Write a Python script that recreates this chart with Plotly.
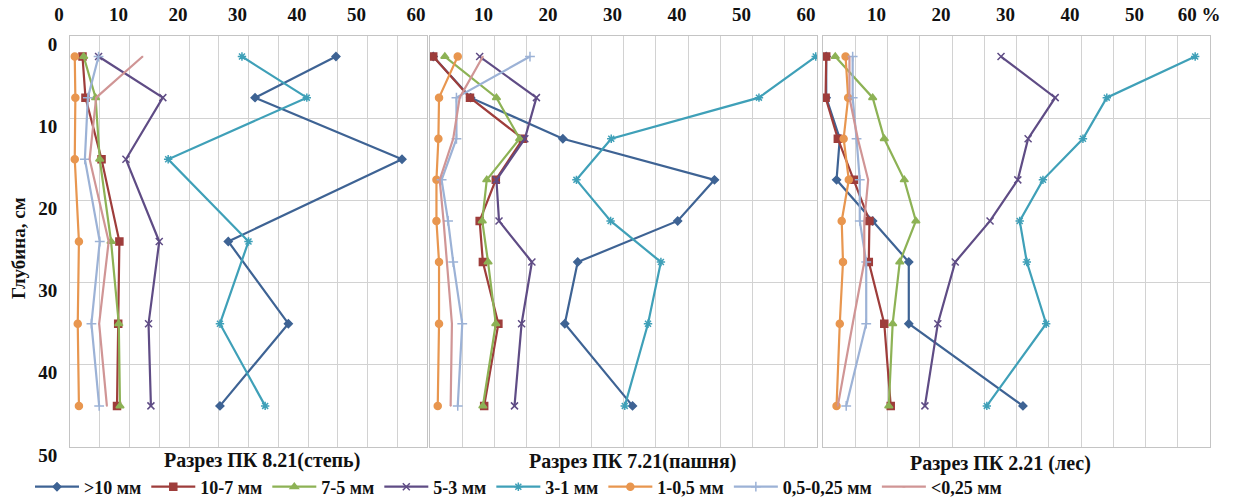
import plotly.graph_objects as go

# ---------------- data ----------------
depth_p1 = [2.5, 7.5, 15, 25, 35, 45]
depth_p23 = [2.5, 7.5, 12.5, 17.5, 22.5, 27.5, 35, 45]

series_names = [">10 мм", "10-7 мм", "7-5 мм", "5-3 мм", "3-1 мм", "1-0,5 мм", "0,5-0,25 мм", "<0,25 мм"]

# Разрез ПК 8.21 (степь)
gt10_p1 = [44.7, 31.1, 55.8, 26.6, 36.7, 25.2]
r10_7_p1 = [2.1, 2.6, 5.3, 8.3, 8.1, 7.9]
r7_5_p1 = [2.3, 4.3, 5.0, 6.9, 8.2, 8.4]
r5_3_p1 = [4.8, 15.6, 9.4, 15.0, 13.2, 13.6]
r3_1_p1 = [28.9, 39.8, 16.5, 30.0, 25.2, 32.8]
r1_05_p1 = [0.8, 0.9, 0.8, 1.5, 1.3, 1.5]
r05_025_p1 = [4.8, 3.0, 2.5, 5.0, 3.6, 4.9]
lt025_p1 = [12.2, 4.4, 3.3, 6.5, 4.9, 6.2]

# Разрез ПК 7.21 (пашня)
gt10_p2 = [0.5, 6.3, 20.6, 44.1, 38.4, 22.9, 20.9, 31.4]
r10_7_p2 = [0.5, 6.2, 14.4, 10.2, 7.7, 8.2, 10.6, 8.4]
r7_5_p2 = [2.3, 10.3, 13.9, 8.8, 8.1, 9.0, 10.2, 8.2]
r5_3_p2 = [7.7, 16.5, 14.7, 10.3, 10.7, 15.8, 14.2, 13.1]
r3_1_p2 = [59.8, 51.0, 28.1, 22.7, 28.0, 35.8, 33.8, 30.2]
r1_05_p2 = [4.3, 1.4, 1.3, 1.0, 1.0, 1.4, 1.4, 1.2]
r05_025_p2 = [15.5, 4.1, 4.1, 1.8, 2.8, 3.6, 5.0, 4.3]
lt025_p2 = [8.2, 4.6, 3.6, 1.5, 2.1, 2.6, 3.4, 3.2]

# Разрез ПК 2.21 (лес)
gt10_p3 = [0.5, 0.5, 2.6, 2.1, 7.7, 13.3, 13.3, 31.0]
r10_7_p3 = [0.5, 0.4, 2.3, 4.8, 7.2, 7.1, 9.5, 10.5]
r7_5_p3 = [1.9, 7.7, 9.5, 12.6, 14.4, 11.9, 10.8, 10.2]
r5_3_p3 = [27.6, 36.0, 31.8, 30.2, 25.9, 20.5, 17.8, 15.8]
r3_1_p3 = [57.7, 44.0, 40.3, 34.1, 30.5, 31.6, 34.6, 25.4]
r1_05_p3 = [3.5, 3.9, 3.2, 4.0, 2.9, 3.1, 2.6, 2.1]
r05_025_p3 = [4.6, 4.6, 5.2, 5.7, 5.7, 6.7, 6.7, 3.6]
lt025_p3 = [4.1, 4.1, 5.4, 7.0, 6.4, 6.4, 4.6, 2.3]

panel_titles = ["Разрез ПК 8.21(степь)", "Разрез ПК 7.21(пашня)", "Разрез ПК 2.21 (лес)"]
x_ticks = list(range(0, 61, 5))
y_ticks = [0, 10, 20, 30, 40, 50]
y_title = "Глубина, см"

# ---------------- styles ----------------
colors = ["#3e6394", "#9e3d3b", "#8db255", "#5f4c85", "#3fa0b8", "#e8964f", "#9cb2d6", "#d09595"]
symbols = ["diamond", "square", "triangle-up", "x-thin-open", "asterisk-open", "circle", "cross-thin-open", "line-ew-open"]
msizes = [6, 7, 7, 7, 7, 7, 7, 1]

panels = [
    (depth_p1, [gt10_p1, r10_7_p1, r7_5_p1, r5_3_p1, r3_1_p1, r1_05_p1, r05_025_p1, lt025_p1]),
    (depth_p23, [gt10_p2, r10_7_p2, r7_5_p2, r5_3_p2, r3_1_p2, r1_05_p2, r05_025_p2, lt025_p2]),
    (depth_p23, [gt10_p3, r10_7_p3, r7_5_p3, r5_3_p3, r3_1_p3, r1_05_p3, r05_025_p3, lt025_p3]),
]

W, H = 1233, 498
def px(v):
    return v / W
def py(v):
    return 1 - v / H

x_dom = [(70, 427), (430, 817), (823, 1210)]
y_dom = [py(447), py(36)]

FONT = "Liberation Serif"

fig = go.Figure()
for p, (depths, vals_list) in enumerate(panels):
    suf = "" if p == 0 else str(p + 1)
    for i, vals in enumerate(vals_list):
        fig.add_trace(go.Scatter(
            x=vals, y=depths, mode="lines+markers", name=series_names[i],
            legendgroup=series_names[i], showlegend=(p == 0),
            line=dict(color=colors[i], width=2.2),
            marker=dict(symbol=symbols[i], size=msizes[i], color=colors[i],
                        line=dict(color=colors[i], width=1.5)),
            xaxis="x" + suf, yaxis="y" + suf, hoverinfo="skip",
        ))

layout = dict(
    width=W, height=H, margin=dict(l=0, r=0, t=0, b=0, autoexpand=False),
    paper_bgcolor="white", plot_bgcolor="white",
    legend=dict(orientation="h", x=px(30), xanchor="left", y=py(487), yanchor="middle",
                font=dict(family=FONT, size=18, color="#111", weight=700),
                itemwidth=44, bgcolor="rgba(0,0,0,0)", tracegroupgap=0),
    annotations=[],
)

for p in range(3):
    suf = "" if p == 0 else str(p + 1)
    ttext = []
    for t in x_ticks:
        if t % 10 != 0 or (t == 0 and p > 0):
            ttext.append("")
        elif t == 60 and p == 2:
            ttext.append("60 %")
        else:
            ttext.append(str(t))
    layout["xaxis" + suf] = dict(
        domain=[px(x_dom[p][0]), px(x_dom[p][1])], range=[0, 60], side="top",
        anchor="y" + suf, tickvals=x_ticks, ticktext=ttext, ticks="",
        showgrid=True, gridcolor="#d2d2d2", gridwidth=1, zeroline=False,
        showline=True, linecolor="#c4c4c4", linewidth=1, mirror=True,
        tickfont=dict(family=FONT, size=19, color="#111", weight=700),
        ticklabelshift=-11, ticklabelstandoff=6, automargin=False,
    )
    layout["yaxis" + suf] = dict(
        domain=y_dom, range=[50, 0], anchor="x" + suf, tickvals=y_ticks,
        showticklabels=(p == 0), ticks="",
        showgrid=True, gridcolor="#d2d2d2", gridwidth=1, zeroline=False,
        showline=True, linecolor="#c4c4c4", linewidth=1, mirror=True,
        tickfont=dict(family=FONT, size=19, color="#111", weight=700),
        ticklabelshift=-8, ticklabelstandoff=8, automargin=False,
    )

sub_x = [262, 632, 1000]
sub_y = [460, 461, 463]
for p in range(3):
    layout["annotations"].append(dict(
        text=panel_titles[p], xref="paper", yref="paper", x=px(sub_x[p]), y=py(sub_y[p]),
        xanchor="center", yanchor="middle", showarrow=False,
        font=dict(family=FONT, size=20, color="#111", weight=700)))

layout["annotations"].append(dict(
    text=y_title, xref="paper", yref="paper", x=px(18), y=py(248), textangle=-90,
    xanchor="center", yanchor="middle", showarrow=False,
    font=dict(family=FONT, size=19, color="#111", weight=700)))

fig.update_layout(**layout)
fig.write_html("out.html")
